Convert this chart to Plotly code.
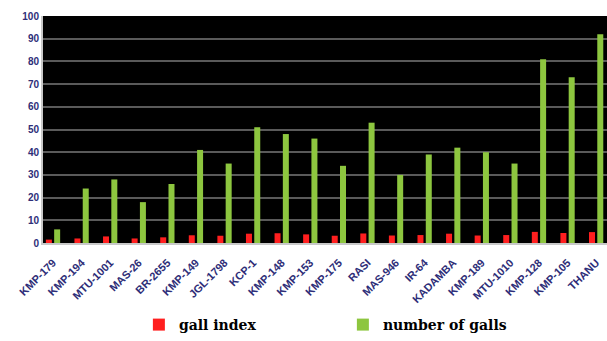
import plotly.graph_objects as go

# Rice genotypes screened for root-knot nematode response
varieties = ["KMP-179", "KMP-194", "MTU-1001", "MAS-26", "BR-2655", "KMP-149",
             "JGL-1798", "KCP-1", "KMP-148", "KMP-153", "KMP-175", "RASI",
             "MAS-946", "IR-64", "KADAMBA", "KMP-189", "MTU-1010", "KMP-128",
             "KMP-105", "THANU"]
gall_index = [1.5, 2.0, 2.9, 2.0, 2.5, 3.4, 3.2, 4.1, 4.3, 3.8,
              3.2, 4.2, 3.3, 3.5, 4.1, 3.3, 3.5, 4.9, 4.4, 4.8]
number_of_galls = [6, 24, 28, 18, 26, 41, 35, 51, 48, 46,
                   34, 53, 30, 39, 42, 40, 35, 81, 73, 92]
y_ticks = list(range(0, 101, 10))

NAVY = "#2e2e78"
x_idx = list(range(len(varieties)))

fig = go.Figure()
fig.add_trace(go.Bar(
    x=x_idx, y=gall_index, name="gall index",
    marker=dict(color="#ff1f1f", line=dict(width=0)),
    width=0.21, offset=-0.25,
))
fig.add_trace(go.Bar(
    x=x_idx, y=number_of_galls, name="number of galls",
    marker=dict(color="#8dc63f", line=dict(width=0)),
    width=0.21, offset=0.04,
))

fig.update_layout(
    width=607, height=341,
    margin=dict(l=43, r=0, t=16, b=98),
    paper_bgcolor="white",
    plot_bgcolor="black",
    barmode="overlay",
    showlegend=True,
    legend=dict(
        orientation="h",
        x=0.17, xanchor="left",
        yref="container", y=-0.025, yanchor="bottom",
        entrywidth=159, entrywidthmode="pixels",
        font=dict(family="DejaVu Serif", size=14, color="black", weight="bold"),
        bgcolor="rgba(0,0,0,0)",
    ),
    xaxis=dict(
        range=[-0.35, 19.38],
        tickmode="array", tickvals=x_idx, ticktext=varieties,
        tickangle=-45,
        tickfont=dict(family="Liberation Sans", size=11, color=NAVY, weight="bold"),
        showgrid=False, zeroline=False,
        showline=True, linecolor="#c8c8c8", linewidth=2,
        ticks="outside", ticklen=7, tickcolor="rgba(0,0,0,0)",
        automargin=False,
    ),
    yaxis=dict(
        range=[0, 100],
        tickmode="array", tickvals=y_ticks,
        tickfont=dict(family="Liberation Sans", size=10, color=NAVY, weight="bold"),
        showgrid=True, gridcolor="#5a5a5a", gridwidth=2,
        zeroline=False,
        showline=True, linecolor="#c8c8c8", linewidth=2,
        ticks="", automargin=False,
        ticksuffix="  ",
    ),
)

fig.write_html("out.html")
